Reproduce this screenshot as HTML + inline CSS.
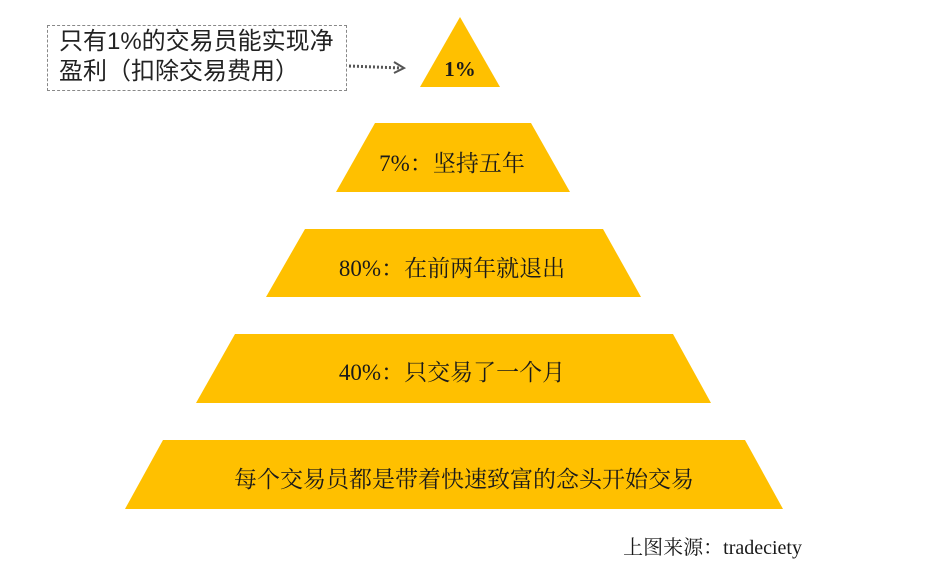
<!DOCTYPE html>
<html><head><meta charset="utf-8"><style>
body{margin:0;background:#fff;width:951px;height:576px;overflow:hidden;position:relative}
svg{position:absolute;left:0;top:0}
.t{font-family:"Liberation Serif","Noto Serif CJK SC",serif;font-size:23px;fill:#1a1a1a}
.box{position:absolute;left:47px;top:25px;width:300px;height:66px;border:1.5px dashed #888;box-sizing:border-box;font-family:"Liberation Sans","Noto Sans CJK SC",sans-serif;font-size:24px;line-height:30px;color:#222;padding:1px 0 0 11px;white-space:nowrap}
</style></head><body>
<svg width="951" height="576">
<polygon points="460,17 500,87 420,87" fill="#FFC000"/>
<polygon points="375,123 531,123 570,192 336,192" fill="#FFC000"/>
<polygon points="305,229 603,229 641,297 266,297" fill="#FFC000"/>
<polygon points="235,334 673,334 711,403 196,403" fill="#FFC000"/>
<polygon points="163,440 745,440 783,509 125,509" fill="#FFC000"/>
<text class="t" x="460" y="76" text-anchor="middle" font-weight="bold" style="font-size:21px">1%</text>
<text class="t" x="452" y="171" text-anchor="middle">7%：坚持五年</text>
<text class="t" x="452" y="276" text-anchor="middle">80%：在前两年就退出</text>
<text class="t" x="452" y="380" text-anchor="middle">40%：只交易了一个月</text>
<text class="t" x="464" y="487" text-anchor="middle">每个交易员都是带着快速致富的念头开始交易</text>
<text class="t" x="802" y="554" text-anchor="end" style="font-size:20px">上图来源：tradeciety</text>
<line x1="349" y1="66" x2="401" y2="68" stroke="#555" stroke-width="3" stroke-dasharray="2,2"/>
<polyline points="394,62 404,68 394,73" fill="none" stroke="#555" stroke-width="2"/>
</svg>
<div class="box">只有1%的交易员能实现净<br>盈利（扣除交易费用）</div>
</body></html>
